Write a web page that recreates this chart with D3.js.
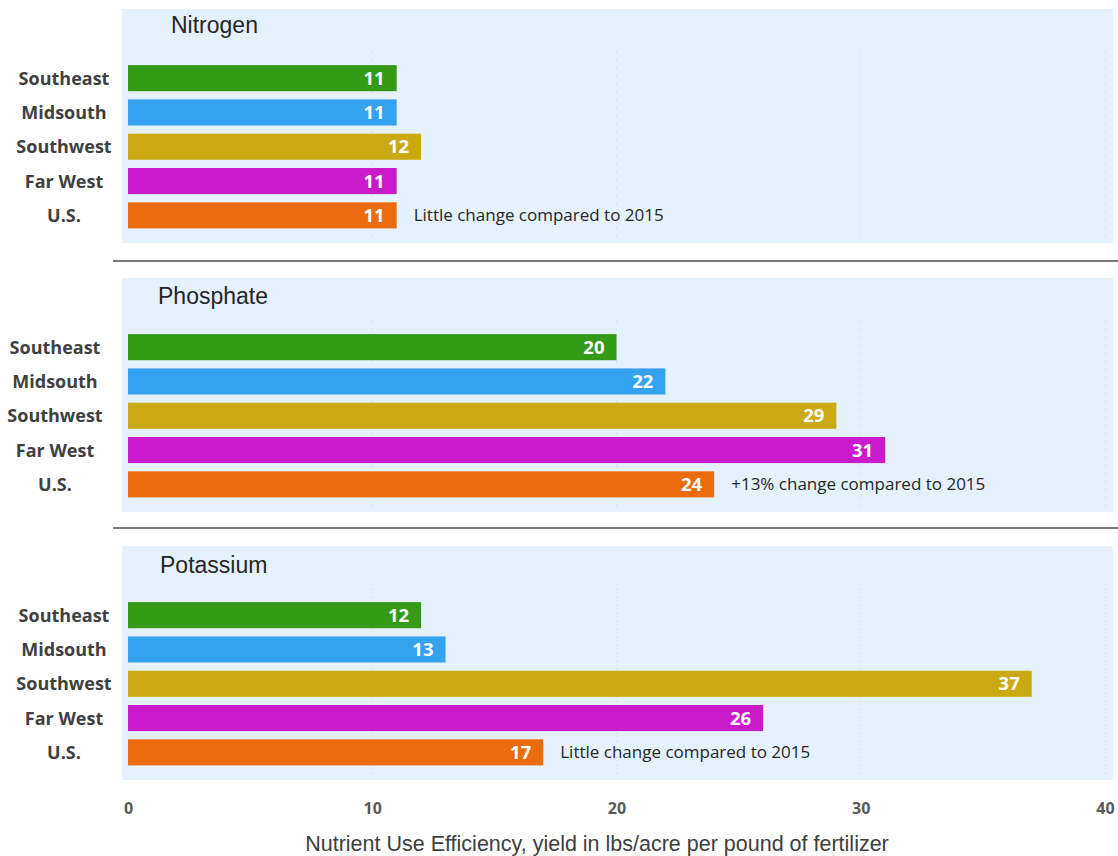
<!DOCTYPE html>
<html>
<head>
<meta charset="utf-8">
<script src="https://cdn.jsdelivr.net/npm/d3@7"></script>
<style>
  body { margin: 0; background: #fff; }
</style>
</head>
<body>
<div id="chart"></div>
<script>
// Data
const regions = ["Southeast", "Midsouth", "Southwest", "Far West", "U.S."];
const colors = ["#349a18", "#35a2ef", "#cba915", "#c91bcb", "#eb6c0c"];
const nitrogen = [11, 11, 12, 11, 11];
const phosphate = [20, 22, 29, 31, 24];
const potassium = [12, 13, 37, 26, 17];
const nutrients = ["Nitrogen", "Phosphate", "Potassium"];
const notes = ["Little change compared to 2015", "+13% change compared to 2015", "Little change compared to 2015"];
const xTicks = [0, 10, 20, 30, 40];

const panels = [
  { title: nutrients[0], values: nitrogen, note: notes[0], top: 9, titleX: 171, titleY: 33, labelX: 64 },
  { title: nutrients[1], values: phosphate, note: notes[1], top: 278, titleX: 158, titleY: 304, labelX: 55 },
  { title: nutrients[2], values: potassium, note: notes[2], top: 546, titleX: 160, titleY: 573, labelX: 64 }
];

const W = 1118, H = 856;
const panelLeft = 122, panelRight = 1113, panelH = 234;

const svg = d3.select("#chart")
  .append("svg")
  .attr("width", W)
  .attr("height", H);

// x scale shared by all panels
const x = d3.scaleLinear()
  .domain([0, 40])
  .range([128, 1105]);

panels.forEach((p, pi) => {
  const g = svg.append("g");

  // background
  g.append("rect")
    .attr("x", panelLeft)
    .attr("y", p.top)
    .attr("width", panelRight - panelLeft)
    .attr("height", panelH)
    .attr("fill", "#e5f1fc");

  // dotted gridlines
  g.selectAll(".grid")
    .data(xTicks)
    .join("line")
    .attr("x1", d => x(d))
    .attr("x2", d => x(d))
    .attr("y1", p.top + 43)
    .attr("y2", p.top + panelH)
    .attr("stroke", "#c9d0d6")
    .attr("stroke-width", 1)
    .attr("stroke-dasharray", "1,7");

  const y = d3.scaleBand()
    .domain(regions)
    .range([p.top + 52, p.top + 52 + 171.5])
    .paddingInner(0.24)
    .paddingOuter(0.12);

  // title
  g.append("text")
    .attr("x", p.titleX)
    .attr("y", p.titleY)
    .style("font-family", "Liberation Sans, Arial, sans-serif")
    .style("font-size", "23px")
    .attr("fill", "#262626")
    .text(p.title);

  // bars
  g.selectAll(".bar")
    .data(p.values)
    .join("rect")
    .attr("x", x(0))
    .attr("y", (d, i) => y(regions[i]))
    .attr("width", d => x(d) - x(0))
    .attr("height", y.bandwidth())
    .attr("fill", (d, i) => colors[i]);

  // value labels
  g.selectAll(".val")
    .data(p.values)
    .join("text")
    .attr("x", d => x(d) - 12)
    .attr("y", (d, i) => y(regions[i]) + y.bandwidth() / 2)
    .attr("dy", "0.36em")
    .attr("text-anchor", "end")
    .style("font-family", "Open Sans, sans-serif")
    .style("font-weight", "bold")
    .style("font-size", "18.5px")
    .attr("fill", "#fff")
    .text(d => d);

  // category labels
  g.selectAll(".cat")
    .data(regions)
    .join("text")
    .attr("x", p.labelX)
    .attr("y", d => y(d) + y.bandwidth() / 2)
    .attr("dy", "0.36em")
    .attr("text-anchor", "middle")
    .style("font-family", "Open Sans, sans-serif")
    .style("font-weight", "bold")
    .style("font-size", "18px")
    .attr("fill", "#404040")
    .text(d => d);

  // note next to the U.S. bar
  const us = p.values[regions.length - 1];
  g.append("text")
    .attr("x", x(us) + 17)
    .attr("y", y("U.S.") + y.bandwidth() / 2)
    .attr("dy", "0.36em")
    .style("font-family", "Open Sans, sans-serif")
    .style("font-size", "17px")
    .attr("fill", "#262626")
    .text(p.note);

  // separator below panel
  if (pi < panels.length - 1) {
    const sepY = pi === 0 ? 261 : 528;
    svg.append("line")
      .attr("x1", 113)
      .attr("x2", W)
      .attr("y1", sepY)
      .attr("y2", sepY)
      .attr("stroke", "#7a7a7a")
      .attr("stroke-width", 2);
  }
});

// x axis labels
svg.append("g")
  .attr("transform", "translate(0,808)")
  .call(d3.axisBottom(x).tickValues(xTicks).tickSize(0).tickPadding(0))
  .call(g => g.select(".domain").remove())
  .selectAll(".tick text")
  .attr("dy", "0.36em")
  .style("font-family", "Open Sans, sans-serif")
  .style("font-weight", "bold")
  .style("font-size", "16px")
  .attr("fill", "#595959");

// axis title
svg.append("text")
  .attr("x", 597)
  .attr("y", 851)
  .attr("text-anchor", "middle")
  .style("font-family", "Liberation Sans, Arial, sans-serif")
  .style("font-size", "21.5px")
  .attr("fill", "#404040")
  .text("Nutrient Use Efficiency, yield in lbs/acre per pound of fertilizer");
</script>
</body>
</html>
